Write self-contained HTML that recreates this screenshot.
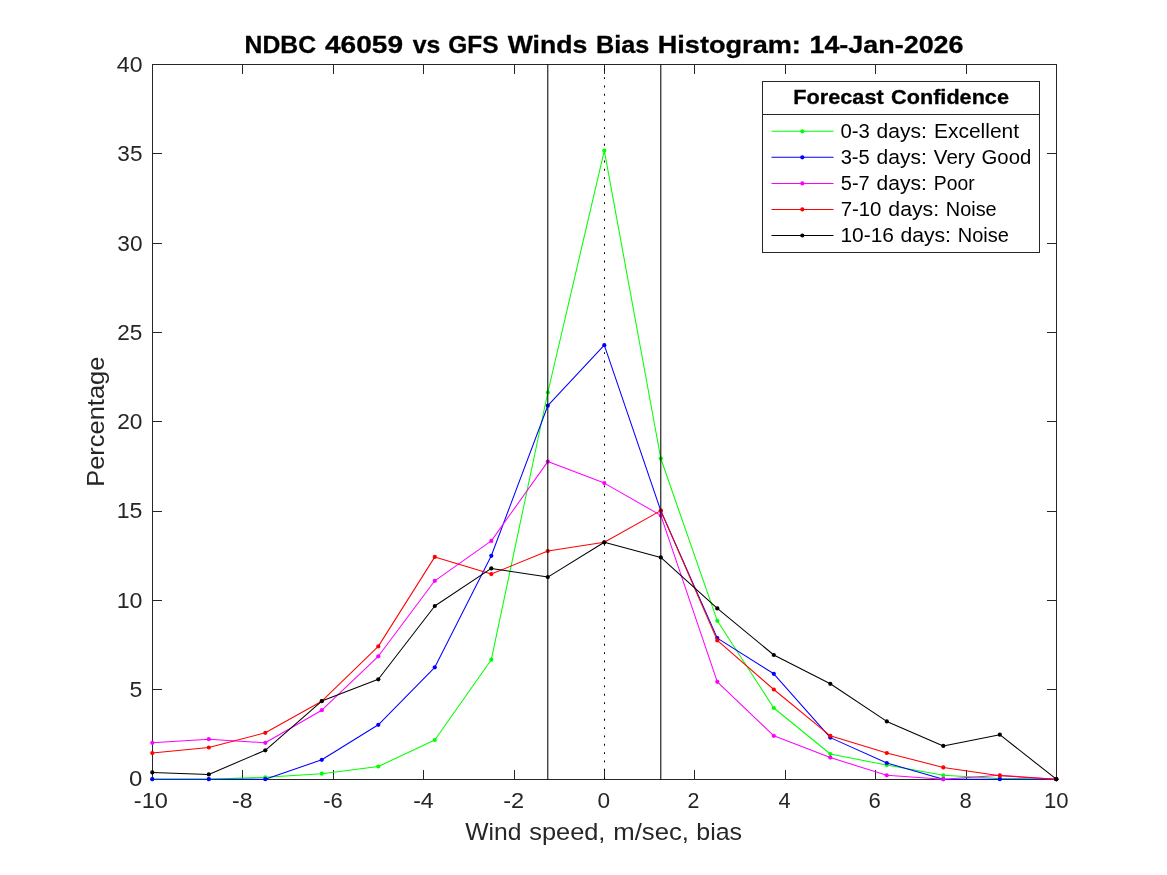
<!DOCTYPE html>
<html lang="en"><head><meta charset="utf-8"><title>NDBC 46059 vs GFS Winds Bias Histogram: 14-Jan-2026</title>
<style>
html,body{margin:0;padding:0;background:#ffffff;overflow:hidden;}
svg{display:block;will-change:transform;}
text{font-family:"Liberation Sans", sans-serif;white-space:pre;}
</style></head><body>
<svg xmlns="http://www.w3.org/2000/svg" width="1167" height="875" viewBox="0 0 1167 875">
<rect x="0" y="0" width="1167" height="875" fill="#ffffff"/>
<g stroke="#262626" stroke-width="1" fill="none" shape-rendering="crispEdges">
<rect x="152.5" y="64.5" width="904.0" height="715.0"/>
<line x1="242.5" y1="779.5" x2="242.5" y2="770.0"/><line x1="242.5" y1="64.5" x2="242.5" y2="74.0"/>
<line x1="333.5" y1="779.5" x2="333.5" y2="770.0"/><line x1="333.5" y1="64.5" x2="333.5" y2="74.0"/>
<line x1="423.5" y1="779.5" x2="423.5" y2="770.0"/><line x1="423.5" y1="64.5" x2="423.5" y2="74.0"/>
<line x1="514.5" y1="779.5" x2="514.5" y2="770.0"/><line x1="514.5" y1="64.5" x2="514.5" y2="74.0"/>
<line x1="604.5" y1="779.5" x2="604.5" y2="770.0"/><line x1="604.5" y1="64.5" x2="604.5" y2="74.0"/>
<line x1="694.5" y1="779.5" x2="694.5" y2="770.0"/><line x1="694.5" y1="64.5" x2="694.5" y2="74.0"/>
<line x1="785.5" y1="779.5" x2="785.5" y2="770.0"/><line x1="785.5" y1="64.5" x2="785.5" y2="74.0"/>
<line x1="875.5" y1="779.5" x2="875.5" y2="770.0"/><line x1="875.5" y1="64.5" x2="875.5" y2="74.0"/>
<line x1="966.5" y1="779.5" x2="966.5" y2="770.0"/><line x1="966.5" y1="64.5" x2="966.5" y2="74.0"/>
<line x1="152.5" y1="689.5" x2="162.0" y2="689.5"/><line x1="1056.5" y1="689.5" x2="1047.0" y2="689.5"/>
<line x1="152.5" y1="600.5" x2="162.0" y2="600.5"/><line x1="1056.5" y1="600.5" x2="1047.0" y2="600.5"/>
<line x1="152.5" y1="511.5" x2="162.0" y2="511.5"/><line x1="1056.5" y1="511.5" x2="1047.0" y2="511.5"/>
<line x1="152.5" y1="421.5" x2="162.0" y2="421.5"/><line x1="1056.5" y1="421.5" x2="1047.0" y2="421.5"/>
<line x1="152.5" y1="332.5" x2="162.0" y2="332.5"/><line x1="1056.5" y1="332.5" x2="1047.0" y2="332.5"/>
<line x1="152.5" y1="243.5" x2="162.0" y2="243.5"/><line x1="1056.5" y1="243.5" x2="1047.0" y2="243.5"/>
<line x1="152.5" y1="153.5" x2="162.0" y2="153.5"/><line x1="1056.5" y1="153.5" x2="1047.0" y2="153.5"/>
</g>
<line x1="604.5" y1="68.82" x2="604.5" y2="779.5" stroke="#000" stroke-width="1.04" stroke-dasharray="1.9 6.433"/>
<g fill="#00ff00"><polyline points="152.30,779.20 208.80,779.20 265.30,777.30 321.80,773.70 378.30,766.50 434.80,740.00 491.30,659.70 547.80,392.50 604.30,150.60 660.80,458.50 717.30,620.80 773.80,708.00 830.30,754.00 886.80,765.10 943.30,775.30 999.80,778.60 1056.30,779.15" fill="none" stroke="#00ff00" stroke-width="1.04" stroke-linejoin="round"/>
<circle cx="152.30" cy="779.20" r="2.1"/><circle cx="208.80" cy="779.20" r="2.1"/><circle cx="265.30" cy="777.30" r="2.1"/><circle cx="321.80" cy="773.70" r="2.1"/><circle cx="378.30" cy="766.50" r="2.1"/><circle cx="434.80" cy="740.00" r="2.1"/><circle cx="491.30" cy="659.70" r="2.1"/><circle cx="547.80" cy="392.50" r="2.1"/><circle cx="604.30" cy="150.60" r="2.1"/><circle cx="660.80" cy="458.50" r="2.1"/><circle cx="717.30" cy="620.80" r="2.1"/><circle cx="773.80" cy="708.00" r="2.1"/><circle cx="830.30" cy="754.00" r="2.1"/><circle cx="886.80" cy="765.10" r="2.1"/><circle cx="943.30" cy="775.30" r="2.1"/><circle cx="999.80" cy="778.60" r="2.1"/><circle cx="1056.30" cy="779.15" r="2.1"/>
</g>
<g fill="#0000ff"><polyline points="152.30,779.15 208.80,779.15 265.30,779.15 321.80,759.80 378.30,724.80 434.80,667.30 491.30,555.80 547.80,405.70 604.30,345.20 660.80,510.80 717.30,638.10 773.80,673.80 830.30,737.60 886.80,763.00 943.30,779.15 999.80,779.15 1056.30,779.15" fill="none" stroke="#0000ff" stroke-width="1.04" stroke-linejoin="round"/>
<circle cx="152.30" cy="779.15" r="2.1"/><circle cx="208.80" cy="779.15" r="2.1"/><circle cx="265.30" cy="779.15" r="2.1"/><circle cx="321.80" cy="759.80" r="2.1"/><circle cx="378.30" cy="724.80" r="2.1"/><circle cx="434.80" cy="667.30" r="2.1"/><circle cx="491.30" cy="555.80" r="2.1"/><circle cx="547.80" cy="405.70" r="2.1"/><circle cx="604.30" cy="345.20" r="2.1"/><circle cx="660.80" cy="510.80" r="2.1"/><circle cx="717.30" cy="638.10" r="2.1"/><circle cx="773.80" cy="673.80" r="2.1"/><circle cx="830.30" cy="737.60" r="2.1"/><circle cx="886.80" cy="763.00" r="2.1"/><circle cx="943.30" cy="779.15" r="2.1"/><circle cx="999.80" cy="779.15" r="2.1"/><circle cx="1056.30" cy="779.15" r="2.1"/>
</g>
<g fill="#ff00ff"><polyline points="152.30,742.80 208.80,739.20 265.30,742.80 321.80,710.20 378.30,656.30 434.80,580.80 491.30,540.90 547.80,461.60 604.30,483.10 660.80,515.40 717.30,681.80 773.80,735.80 830.30,757.60 886.80,775.30 943.30,779.20 999.80,775.30 1056.30,779.15" fill="none" stroke="#ff00ff" stroke-width="1.04" stroke-linejoin="round"/>
<circle cx="152.30" cy="742.80" r="2.1"/><circle cx="208.80" cy="739.20" r="2.1"/><circle cx="265.30" cy="742.80" r="2.1"/><circle cx="321.80" cy="710.20" r="2.1"/><circle cx="378.30" cy="656.30" r="2.1"/><circle cx="434.80" cy="580.80" r="2.1"/><circle cx="491.30" cy="540.90" r="2.1"/><circle cx="547.80" cy="461.60" r="2.1"/><circle cx="604.30" cy="483.10" r="2.1"/><circle cx="660.80" cy="515.40" r="2.1"/><circle cx="717.30" cy="681.80" r="2.1"/><circle cx="773.80" cy="735.80" r="2.1"/><circle cx="830.30" cy="757.60" r="2.1"/><circle cx="886.80" cy="775.30" r="2.1"/><circle cx="943.30" cy="779.20" r="2.1"/><circle cx="999.80" cy="775.30" r="2.1"/><circle cx="1056.30" cy="779.15" r="2.1"/>
</g>
<g fill="#ff0000"><polyline points="152.30,753.10 208.80,747.50 265.30,732.80 321.80,701.20 378.30,646.40 434.80,556.90 491.30,574.10 547.80,551.10 604.30,542.30 660.80,510.65 717.30,640.40 773.80,689.50 830.30,735.80 886.80,753.00 943.30,767.40 999.80,775.70 1056.30,779.15" fill="none" stroke="#ff0000" stroke-width="1.04" stroke-linejoin="round"/>
<circle cx="152.30" cy="753.10" r="2.1"/><circle cx="208.80" cy="747.50" r="2.1"/><circle cx="265.30" cy="732.80" r="2.1"/><circle cx="321.80" cy="701.20" r="2.1"/><circle cx="378.30" cy="646.40" r="2.1"/><circle cx="434.80" cy="556.90" r="2.1"/><circle cx="491.30" cy="574.10" r="2.1"/><circle cx="547.80" cy="551.10" r="2.1"/><circle cx="604.30" cy="542.30" r="2.1"/><circle cx="660.80" cy="510.65" r="2.1"/><circle cx="717.30" cy="640.40" r="2.1"/><circle cx="773.80" cy="689.50" r="2.1"/><circle cx="830.30" cy="735.80" r="2.1"/><circle cx="886.80" cy="753.00" r="2.1"/><circle cx="943.30" cy="767.40" r="2.1"/><circle cx="999.80" cy="775.70" r="2.1"/><circle cx="1056.30" cy="779.15" r="2.1"/>
</g>
<g fill="#000000"><polyline points="152.30,772.40 208.80,774.40 265.30,750.30 321.80,701.10 378.30,679.30 434.80,606.00 491.30,568.40 547.80,577.10 604.30,542.30 660.80,557.40 717.30,608.40 773.80,655.00 830.30,683.80 886.80,721.40 943.30,745.90 999.80,734.70 1056.30,779.15" fill="none" stroke="#000000" stroke-width="1.04" stroke-linejoin="round"/>
<circle cx="152.30" cy="772.40" r="2.1"/><circle cx="208.80" cy="774.40" r="2.1"/><circle cx="265.30" cy="750.30" r="2.1"/><circle cx="321.80" cy="701.10" r="2.1"/><circle cx="378.30" cy="679.30" r="2.1"/><circle cx="434.80" cy="606.00" r="2.1"/><circle cx="491.30" cy="568.40" r="2.1"/><circle cx="547.80" cy="577.10" r="2.1"/><circle cx="604.30" cy="542.30" r="2.1"/><circle cx="660.80" cy="557.40" r="2.1"/><circle cx="717.30" cy="608.40" r="2.1"/><circle cx="773.80" cy="655.00" r="2.1"/><circle cx="830.30" cy="683.80" r="2.1"/><circle cx="886.80" cy="721.40" r="2.1"/><circle cx="943.30" cy="745.90" r="2.1"/><circle cx="999.80" cy="734.70" r="2.1"/><circle cx="1056.30" cy="779.15" r="2.1"/>
</g>
<line x1="547.8" y1="64.5" x2="547.8" y2="779.5" stroke="#000" stroke-width="1.04"/>
<line x1="660.8" y1="64.5" x2="660.8" y2="779.5" stroke="#000" stroke-width="1.04"/>
<g stroke="#262626" stroke-width="1" shape-rendering="crispEdges"><rect x="762.5" y="81.5" width="277" height="171" fill="#ffffff"/><line x1="762.5" y1="114.5" x2="1039.5" y2="114.5"/></g>
<line x1="771.5" y1="131.30" x2="833.5" y2="131.30" stroke="#00ff00" stroke-width="1.04"/><circle cx="802.3" cy="131.30" r="2.1" fill="#00ff00"/>
<line x1="771.5" y1="157.35" x2="833.5" y2="157.35" stroke="#0000ff" stroke-width="1.04"/><circle cx="802.3" cy="157.35" r="2.1" fill="#0000ff"/>
<line x1="771.5" y1="183.40" x2="833.5" y2="183.40" stroke="#ff00ff" stroke-width="1.04"/><circle cx="802.3" cy="183.40" r="2.1" fill="#ff00ff"/>
<line x1="771.5" y1="209.45" x2="833.5" y2="209.45" stroke="#ff0000" stroke-width="1.04"/><circle cx="802.3" cy="209.45" r="2.1" fill="#ff0000"/>
<line x1="771.5" y1="235.50" x2="833.5" y2="235.50" stroke="#000000" stroke-width="1.04"/><circle cx="802.3" cy="235.50" r="2.1" fill="#000000"/>
<text y="53.0" font-size="24.28" font-weight="bold" fill="#000" stroke="#000" stroke-width="0.3"><tspan x="244.64" textLength="71.40" lengthAdjust="spacingAndGlyphs">NDBC</tspan> <tspan x="324.97" textLength="78.02" lengthAdjust="spacingAndGlyphs">46059</tspan> <tspan x="412.68" textLength="27.60" lengthAdjust="spacingAndGlyphs">vs</tspan> <tspan x="448.21" textLength="50.34" lengthAdjust="spacingAndGlyphs">GFS</tspan> <tspan x="507.69" textLength="79.58" lengthAdjust="spacingAndGlyphs">Winds</tspan> <tspan x="595.92" textLength="53.37" lengthAdjust="spacingAndGlyphs">Bias</tspan> <tspan x="657.75" textLength="143.16" lengthAdjust="spacingAndGlyphs">Histogram:</tspan> <tspan x="809.45" textLength="154.11" lengthAdjust="spacingAndGlyphs">14-Jan-2026</tspan></text>
<text y="840.0" font-size="24.28" font-weight="normal" fill="#262626"><tspan x="465.23" textLength="56.15" lengthAdjust="spacingAndGlyphs">Wind</tspan> <tspan x="529.24" textLength="76.19" lengthAdjust="spacingAndGlyphs">speed,</tspan> <tspan x="613.22" textLength="75.75" lengthAdjust="spacingAndGlyphs">m/sec,</tspan> <tspan x="696.3" textLength="45.80" lengthAdjust="spacingAndGlyphs">bias</tspan></text>
<text y="103.9" font-size="19.87" font-weight="bold" fill="#000" stroke="#000" stroke-width="0.3"><tspan x="793.39" textLength="90.31" lengthAdjust="spacingAndGlyphs">Forecast</tspan> <tspan x="891.1" textLength="117.84" lengthAdjust="spacingAndGlyphs">Confidence</tspan></text>
<text y="138" font-size="19.87" font-weight="normal" fill="#000"><tspan x="840.43" textLength="29.33" lengthAdjust="spacingAndGlyphs">0-3</tspan> <tspan x="876.58" textLength="50.30" lengthAdjust="spacingAndGlyphs">days:</tspan> <tspan x="933.96" textLength="85.08" lengthAdjust="spacingAndGlyphs">Excellent</tspan></text>
<text y="164" font-size="19.87" font-weight="normal" fill="#000"><tspan x="840.68" textLength="29.05" lengthAdjust="spacingAndGlyphs">3-5</tspan> <tspan x="876.58" textLength="50.30" lengthAdjust="spacingAndGlyphs">days:</tspan> <tspan x="933.83" textLength="41.09" lengthAdjust="spacingAndGlyphs">Very</tspan> <tspan x="981.55" textLength="49.75" lengthAdjust="spacingAndGlyphs">Good</tspan></text>
<text y="190" font-size="19.87" font-weight="normal" fill="#000"><tspan x="840.84" textLength="28.89" lengthAdjust="spacingAndGlyphs">5-7</tspan> <tspan x="876.58" textLength="50.30" lengthAdjust="spacingAndGlyphs">days:</tspan> <tspan x="933.84" textLength="40.79" lengthAdjust="spacingAndGlyphs">Poor</tspan></text>
<text y="216" font-size="19.87" font-weight="normal" fill="#000"><tspan x="840.68" textLength="40.78" lengthAdjust="spacingAndGlyphs">7-10</tspan> <tspan x="888.37" textLength="50.72" lengthAdjust="spacingAndGlyphs">days:</tspan> <tspan x="945.81" textLength="50.90" lengthAdjust="spacingAndGlyphs">Noise</tspan></text>
<text y="242" font-size="19.87" font-weight="normal" fill="#000"><tspan x="840.43" textLength="53.53" lengthAdjust="spacingAndGlyphs">10-16</tspan> <tspan x="900.48" textLength="50.51" lengthAdjust="spacingAndGlyphs">days:</tspan> <tspan x="957.71" textLength="51.11" lengthAdjust="spacingAndGlyphs">Noise</tspan></text>
<text y="808.0" font-size="22.07" font-weight="normal" fill="#262626"><tspan x="133.87" textLength="34.10" lengthAdjust="spacingAndGlyphs">-10</tspan></text>
<text y="808.0" font-size="22.07" font-weight="normal" fill="#262626"><tspan x="231.99" textLength="20.45" lengthAdjust="spacingAndGlyphs">-8</tspan></text>
<text y="808.0" font-size="22.07" font-weight="normal" fill="#262626"><tspan x="323.13" textLength="19.47" lengthAdjust="spacingAndGlyphs">-6</tspan></text>
<text y="808.0" font-size="22.07" font-weight="normal" fill="#262626"><tspan x="413.19" textLength="20.53" lengthAdjust="spacingAndGlyphs">-4</tspan></text>
<text y="808.0" font-size="22.07" font-weight="normal" fill="#262626"><tspan x="503.17" textLength="21.00" lengthAdjust="spacingAndGlyphs">-2</tspan></text>
<text y="808.0" font-size="22.07" font-weight="normal" fill="#262626"><tspan x="597.59" textLength="12.62" lengthAdjust="spacingAndGlyphs">0</tspan></text>
<text y="808.0" font-size="22.07" font-weight="normal" fill="#262626"><tspan x="687.48" textLength="11.91" lengthAdjust="spacingAndGlyphs">2</tspan></text>
<text y="808.0" font-size="22.07" font-weight="normal" fill="#262626"><tspan x="778.52" textLength="12.12" lengthAdjust="spacingAndGlyphs">4</tspan></text>
<text y="808.0" font-size="22.07" font-weight="normal" fill="#262626"><tspan x="868.64" textLength="12.34" lengthAdjust="spacingAndGlyphs">6</tspan></text>
<text y="808.0" font-size="22.07" font-weight="normal" fill="#262626"><tspan x="959.56" textLength="12.24" lengthAdjust="spacingAndGlyphs">8</tspan></text>
<text y="808.0" font-size="22.07" font-weight="normal" fill="#262626"><tspan x="1043.9" textLength="24.62" lengthAdjust="spacingAndGlyphs">10</tspan></text>
<text y="72" font-size="22.07" font-weight="normal" fill="#262626"><tspan x="116.88" textLength="25.66" lengthAdjust="spacingAndGlyphs">40</tspan></text>
<text y="161" font-size="22.07" font-weight="normal" fill="#262626"><tspan x="117.35" textLength="25.09" lengthAdjust="spacingAndGlyphs">35</tspan></text>
<text y="251" font-size="22.07" font-weight="normal" fill="#262626"><tspan x="117.34" textLength="25.19" lengthAdjust="spacingAndGlyphs">30</tspan></text>
<text y="340" font-size="22.07" font-weight="normal" fill="#262626"><tspan x="117.33" textLength="25.10" lengthAdjust="spacingAndGlyphs">25</tspan></text>
<text y="429" font-size="22.07" font-weight="normal" fill="#262626"><tspan x="117.23" textLength="25.31" lengthAdjust="spacingAndGlyphs">20</tspan></text>
<text y="518" font-size="22.07" font-weight="normal" fill="#262626"><tspan x="116.72" textLength="25.73" lengthAdjust="spacingAndGlyphs">15</tspan></text>
<text y="608" font-size="22.07" font-weight="normal" fill="#262626"><tspan x="116.71" textLength="25.84" lengthAdjust="spacingAndGlyphs">10</tspan></text>
<text y="697" font-size="22.07" font-weight="normal" fill="#262626"><tspan x="129.49" textLength="12.81" lengthAdjust="spacingAndGlyphs">5</tspan></text>
<text y="786" font-size="22.07" font-weight="normal" fill="#262626"><tspan x="128.94" textLength="13.32" lengthAdjust="spacingAndGlyphs">0</tspan></text>
<text transform="translate(104,486.76) rotate(-90) scale(1.0486,1)" font-size="24.28" fill="#262626">Percentage</text>
</svg></body></html>
